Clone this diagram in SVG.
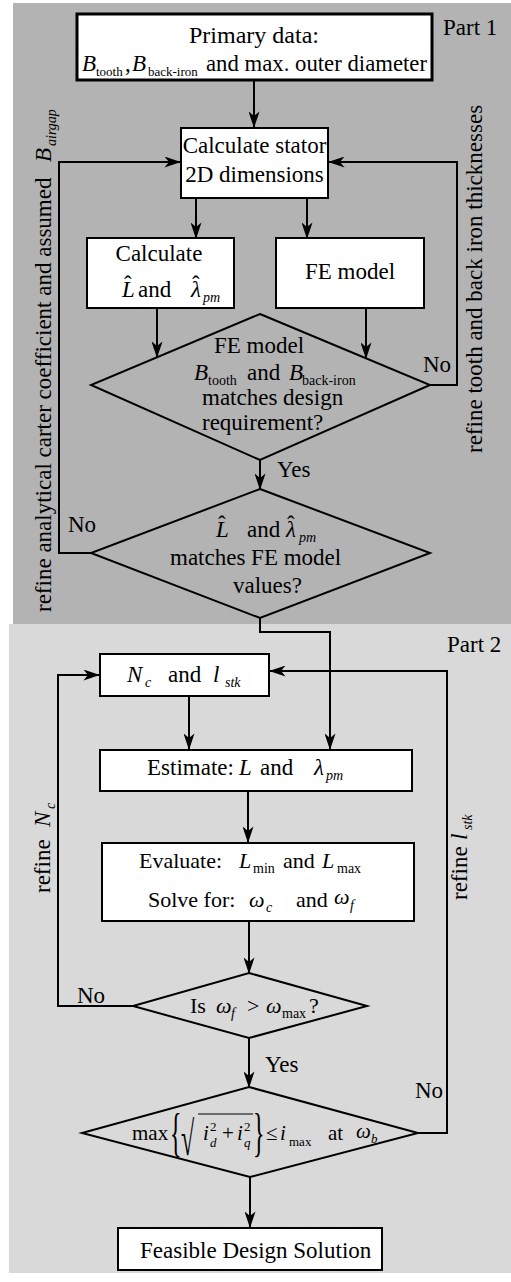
<svg xmlns="http://www.w3.org/2000/svg" width="511" height="1282" viewBox="0 0 511 1282">
<defs>
<style>
.t{font-family:"Liberation Serif","Times New Roman",serif;font-size:23px;fill:#000}
.i{font-style:italic}
.s{font-size:14px}
.box{fill:#fff;stroke:#000;stroke-width:2}
.dia{fill:none;stroke:#000;stroke-width:2}
.c{fill:none;stroke:#000;stroke-width:2}
</style>
<marker id="ah" markerUnits="userSpaceOnUse" viewBox="0 0 18 12" markerWidth="17" markerHeight="11" refX="17" refY="6" orient="auto">
<path d="M0,0 L18,6 L0,12 L5,6 Z" fill="#000"/>
</marker>
</defs>
<rect x="0" y="0" width="511" height="1282" fill="#fff"/>
<rect id="part1" x="13" y="3" width="498" height="621" fill="#b3b3b3"/>
<rect id="part2" x="9" y="624" width="502" height="649" fill="#d9d9d9"/>
<text class="t" x="443" y="35">Part 1</text>
<text class="t" x="447" y="652">Part 2</text>

<g id="connectors">
<path class="c" d="M254,81 V127" marker-end="url(#ah)"/>
<path class="c" d="M196,198 V238" marker-end="url(#ah)"/>
<path class="c" d="M307,198 V238" marker-end="url(#ah)"/>
<path class="c" d="M157,308 V357" marker-end="url(#ah)"/>
<path class="c" d="M366,308 V358" marker-end="url(#ah)"/>
<path class="c" d="M430,385 H457 V162 H329" marker-end="url(#ah)"/>
<path class="c" d="M260,460 V489" marker-end="url(#ah)"/>
<path class="c" d="M91,553 H59 V162 H180" marker-end="url(#ah)"/>
<path class="c" d="M260,618 V632 H330 V749" marker-end="url(#ah)"/>
<path class="c" d="M189,696 V749" marker-end="url(#ah)"/>
<path class="c" d="M248,791 V842" marker-end="url(#ah)"/>
<path class="c" d="M249,922 V973" marker-end="url(#ah)"/>
<path class="c" d="M133,1006 H58 V675 H99" marker-end="url(#ah)"/>
<path class="c" d="M418,1133 H447 V671 H270" marker-end="url(#ah)"/>
<path class="c" d="M249,1038 V1087" marker-end="url(#ah)"/>
<path class="c" d="M250,1177 V1227" marker-end="url(#ah)"/>
<text class="t" x="423" y="372">No</text>
<text class="t" x="277" y="477">Yes</text>
<text class="t" x="68" y="532">No</text>
<text class="t" x="77" y="1003">No</text>
<text class="t" x="265" y="1072">Yes</text>
<text class="t" x="415" y="1098">No</text>
<text class="t" transform="translate(51,612) rotate(-90)"><tspan x="0" y="0">refine analytical carter coefficient and assumed</tspan><tspan class="i" x="450" y="0">B</tspan><tspan class="i s" x="466" y="5">airgap</tspan></text>
<text class="t" transform="translate(482,453) rotate(-90)">refine tooth and back iron thicknesses</text>
<text class="t" transform="translate(50,893) rotate(-90)"><tspan x="0" y="0">refine</tspan><tspan class="i" x="66" y="0">N</tspan><tspan class="i s" x="84" y="5">c</tspan></text>
<text class="t" transform="translate(467,900) rotate(-90)"><tspan x="0" y="0">refine</tspan><tspan class="i" x="60" y="0">l</tspan><tspan class="i s" x="70" y="5">stk</tspan></text>
</g>

<g id="n-primary">
<rect x="77" y="14" width="355" height="66" fill="#fff" stroke="#000" stroke-width="3"/>
<text class="t" x="254" y="43" text-anchor="middle" style="font-size:24px">Primary data:</text>
<text class="t" y="71"><tspan class="i" x="82">B</tspan><tspan style="font-size:13px" x="96" y="76">tooth</tspan><tspan x="125" y="71">,</tspan><tspan class="i" x="132" y="71">B</tspan><tspan style="font-size:13px" x="148" y="76">back-iron</tspan><tspan x="206" y="71" textLength="221" lengthAdjust="spacingAndGlyphs">and max. outer diameter</tspan></text>
</g>

<g id="n-stator">
<rect class="box" x="181" y="128" width="147" height="70"/>
<text class="t" x="254.5" y="153" text-anchor="middle">Calculate stator</text>
<text class="t" x="254.5" y="182" text-anchor="middle">2D dimensions</text>
</g>

<g id="n-calc">
<rect class="box" x="87" y="238" width="147" height="70"/>
<text class="t" x="159" y="261" text-anchor="middle">Calculate</text>
<text class="t" y="297"><tspan class="i" x="122">L</tspan><tspan x="138">and</tspan><tspan class="i" x="191">λ</tspan><tspan class="i s" x="203" y="302">pm</tspan></text>
<text class="t" x="124" y="292">ˆ</text>
<text class="t" x="192" y="292">ˆ</text>
</g>

<g id="n-fe">
<rect class="box" x="276" y="238" width="148" height="70"/>
<text class="t" x="350" y="279" text-anchor="middle">FE model</text>
</g>

<g id="n-check1">
<polygon class="dia" points="260,314 430,385 260,460 91,385"/>
<text class="t" x="259" y="353" text-anchor="middle">FE model</text>
<text class="t" y="380"><tspan class="i" x="194">B</tspan><tspan class="s" x="208" y="385">tooth</tspan><tspan x="247" y="380">and</tspan><tspan class="i" x="289" y="380">B</tspan><tspan class="s" x="302" y="385">back-iron</tspan></text>
<text class="t" x="202" y="405">matches design</text>
<text class="t" x="202" y="430">requirement?</text>
</g>

<g id="n-check2">
<polygon class="dia" points="260,489 430,553 260,618 91,553"/>
<text class="t" y="537"><tspan class="i" x="216">L</tspan><tspan x="247">and</tspan><tspan class="i" x="286">λ</tspan><tspan class="i s" x="299" y="542">pm</tspan></text>
<text class="t" x="218" y="532">ˆ</text>
<text class="t" x="287" y="532">ˆ</text>
<text class="t" x="170" y="565">matches FE model</text>
<text class="t" x="233" y="593">values?</text>
</g>

<g id="n-nc">
<rect class="box" x="100" y="654" width="169" height="42"/>
<text class="t" y="682"><tspan class="i" x="127">N</tspan><tspan class="i s" x="145" y="687">c</tspan><tspan x="168" y="682">and</tspan><tspan class="i" x="213" y="682">l</tspan><tspan class="i s" x="225" y="687">stk</tspan></text>
</g>

<g id="n-estimate">
<rect class="box" x="100" y="750" width="312" height="41"/>
<text class="t" y="775"><tspan x="147">Estimate:</tspan><tspan class="i" x="239">L</tspan><tspan x="260">and</tspan><tspan class="i" x="314">λ</tspan><tspan class="i s" x="326" y="780">pm</tspan></text>
</g>

<g id="n-evaluate">
<rect class="box" x="102" y="843" width="312" height="78"/>
<text class="t" y="868" style="font-size:22px"><tspan x="139">Evaluate:</tspan><tspan class="i" x="239">L</tspan><tspan class="s" x="253" y="873">min</tspan><tspan x="283" y="868">and</tspan><tspan class="i" x="322" y="868">L</tspan><tspan class="s" x="337" y="873">max</tspan></text>
<text class="t" y="907" style="font-size:22px"><tspan x="148">Solve for:</tspan><tspan class="i" x="249">ω</tspan><tspan class="i s" x="266" y="912">c</tspan><tspan x="296" y="907">and</tspan><tspan class="i" x="334" y="904">ω</tspan><tspan class="i s" x="350" y="910">f</tspan></text>
</g>

<g id="n-check3">
<polygon class="dia" points="249,973 367,1006 249,1038 133,1006"/>
<text class="t" y="1013" style="font-size:22px"><tspan x="190">Is</tspan><tspan class="i" x="216">ω</tspan><tspan class="i s" x="231" y="1018">f</tspan><tspan x="247" y="1013">&gt;</tspan><tspan class="i" x="266" y="1013">ω</tspan><tspan class="s" x="282" y="1018">max</tspan><tspan x="309" y="1013">?</tspan></text>
</g>

<g id="n-check4">
<polygon class="dia" points="249,1087 418,1133 250,1177 82,1133"/>
<text class="t" x="132" y="1140" style="font-size:21px">max</text>
<text class="t" transform="translate(170,1150) scale(1,2.2)" style="font-size:24px">{</text>
<text class="t" transform="translate(181,1155) scale(1,2)" style="font-size:24px">√</text>
<line x1="198" y1="1114" x2="253" y2="1114" stroke="#000" stroke-width="1.2"/>
<text class="t" y="1140" style="font-size:21px"><tspan class="i" x="203">i</tspan><tspan x="222">+</tspan><tspan class="i" x="237">i</tspan></text>
<text class="t" style="font-size:13px"><tspan x="210" y="1131">2</tspan><tspan x="244" y="1131">2</tspan><tspan class="i" x="210" y="1147">d</tspan><tspan class="i" x="244" y="1147">q</tspan></text>
<text class="t" transform="translate(253,1150) scale(1,2.2)" style="font-size:24px">}</text>
<text class="t" y="1140" style="font-size:21px"><tspan x="266">≤</tspan><tspan class="i" x="280">i</tspan><tspan x="328">at</tspan><tspan class="i" x="356" y="1138">ω</tspan></text>
<text class="t" style="font-size:13px"><tspan x="289" y="1146">max</tspan><tspan class="i" x="371" y="1143">b</tspan></text>
</g>

<g id="n-feasible">
<rect class="box" x="118" y="1228" width="264" height="42"/>
<text class="t" x="140" y="1258">Feasible Design Solution</text>
</g>
</svg>
